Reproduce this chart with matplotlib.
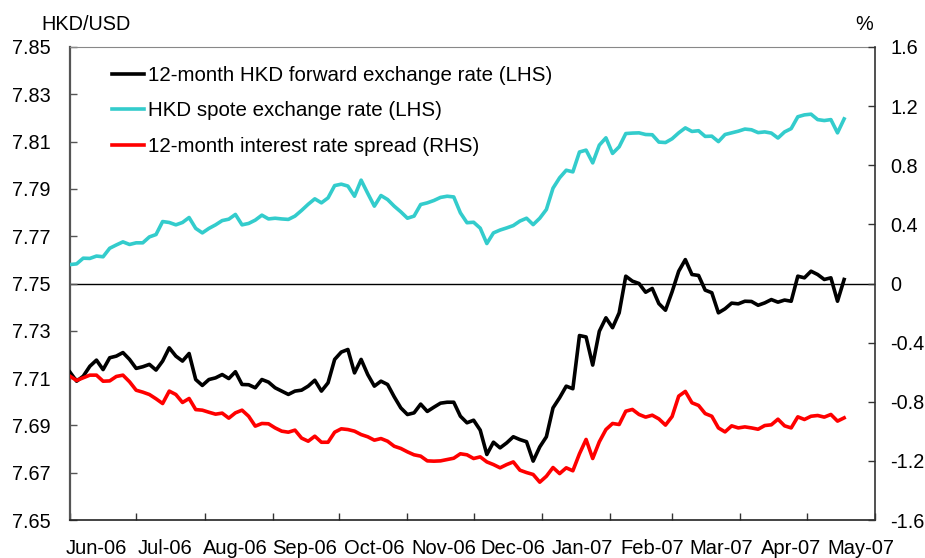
import matplotlib
matplotlib.use('Agg')
import matplotlib.pyplot as plt
import pandas as pd

plt.rcParams['font.family'] = ['Liberation Sans', 'DejaVu Sans']

months = ["Jun-06", "Jul-06", "Aug-06", "Sep-06", "Oct-06", "Nov-06",
          "Dec-06", "Jan-07", "Feb-07", "Mar-07", "Apr-07", "May-07"]

# HKD spot exchange rate (LHS), sampled every 3 days from 1 Jun 2006
spot = [7.7580, 7.7583, 7.7607, 7.7606, 7.7616, 7.7613, 7.7649, 7.7663, 7.7676, 7.7665,
        7.7672, 7.7672, 7.7697, 7.7707, 7.7762, 7.7758, 7.7748, 7.7758, 7.7779, 7.7733,
        7.7714, 7.7733, 7.7748, 7.7766, 7.7772, 7.7792, 7.7748, 7.7754, 7.7768, 7.7789,
        7.7773,
        7.7776, 7.7773, 7.7771, 7.7785, 7.7809, 7.7835, 7.7858, 7.7841, 7.7862, 7.7914,
        7.7920, 7.7912, 7.7869, 7.7937, 7.7881, 7.7827, 7.7872, 7.7855, 7.7827, 7.7803,
        7.7776, 7.7785, 7.7834, 7.7841, 7.7851, 7.7864, 7.7869, 7.7866, 7.7799, 7.7757,
        7.7759, 7.7734, 7.7669, 7.7714, 7.7726, 7.7735, 7.7745, 7.7764, 7.7776, 7.7749,
        7.7776, 7.7813, 7.7903, 7.7947, 7.7979, 7.7972, 7.8056, 7.8064, 7.8010, 7.8085,
        7.8116, 7.8050, 7.8078, 7.8134, 7.8136, 7.8137, 7.8130, 7.8129, 7.8098, 7.8096,
        7.8112,
        7.8137, 7.8158, 7.8143, 7.8146, 7.8122, 7.8123, 7.8100, 7.8130, 7.8137, 7.8144,
        7.8153, 7.8150, 7.8138, 7.8141, 7.8136, 7.8115, 7.8141, 7.8155, 7.8205, 7.8213,
        7.8216, 7.8193, 7.8189, 7.8193, 7.8137, 7.8196]

# 12-month HKD forward exchange rate (LHS)
fwd = [7.7125, 7.7087, 7.7108, 7.7150, 7.7176, 7.7136, 7.7186, 7.7193, 7.7208, 7.7179,
       7.7141, 7.7148, 7.7158, 7.7134, 7.7172, 7.7228, 7.7193, 7.7172, 7.7204, 7.7094,
       7.7069, 7.7094, 7.7101, 7.7115, 7.7098, 7.7127, 7.7073, 7.7072, 7.7059, 7.7094,
       7.7083,
       7.7059, 7.7045, 7.7031, 7.7045, 7.7049, 7.7066, 7.7091, 7.7045, 7.7080, 7.7179,
       7.7210, 7.7221, 7.7122, 7.7179, 7.7115, 7.7066, 7.7087, 7.7073, 7.7021, 7.6974,
       7.6946, 7.6953, 7.6990, 7.6959, 7.6977, 7.6994, 7.6998, 7.6998, 7.6939, 7.6911,
       7.6922, 7.6880, 7.6777, 7.6829, 7.6805, 7.6826, 7.6852, 7.6840, 7.6831, 7.6749,
       7.6809, 7.6852, 7.6974, 7.7017, 7.7066, 7.7055, 7.7280, 7.7274, 7.7155, 7.7298,
       7.7355, 7.7313, 7.7376, 7.7531, 7.7510, 7.7500, 7.7463, 7.7479, 7.7415, 7.7387,
       7.7465,
       7.7552, 7.7601, 7.7538, 7.7534, 7.7472, 7.7461, 7.7376, 7.7393, 7.7417, 7.7414,
       7.7425, 7.7424, 7.7408, 7.7418, 7.7432, 7.7421, 7.7430, 7.7425, 7.7531, 7.7524,
       7.7552, 7.7538, 7.7517, 7.7524, 7.7425, 7.7517]

# 12-month interest rate spread (RHS, %)
spread = [-0.627, -0.656, -0.638, -0.620, -0.620, -0.661, -0.659, -0.629, -0.620, -0.665,
          -0.722, -0.735, -0.751, -0.780, -0.812, -0.728, -0.751, -0.805, -0.778, -0.853,
          -0.857, -0.871, -0.884, -0.877, -0.911, -0.875, -0.857, -0.898, -0.965, -0.947,
          -0.949,
          -0.977, -0.999, -1.006, -0.992, -1.046, -1.067, -1.033, -1.074, -1.074, -1.006,
          -0.983, -0.988, -0.999, -1.022, -1.037, -1.060, -1.049, -1.067, -1.101, -1.116,
          -1.139, -1.159, -1.168, -1.200, -1.202, -1.200, -1.191, -1.182, -1.152, -1.159,
          -1.184, -1.173, -1.207, -1.225, -1.247, -1.225, -1.207, -1.263, -1.279, -1.292,
          -1.344, -1.304, -1.245, -1.286, -1.247, -1.267, -1.152, -1.055, -1.184, -1.071,
          -0.988, -0.947, -0.954, -0.864, -0.852, -0.886, -0.904, -0.891, -0.916, -0.958,
          -0.900,
          -0.762, -0.730, -0.807, -0.825, -0.880, -0.898, -0.977, -1.004, -0.963, -0.977,
          -0.970, -0.977, -0.986, -0.961, -0.956, -0.918, -0.963, -0.977, -0.902, -0.920,
          -0.898, -0.893, -0.904, -0.886, -0.931, -0.909]

dates = pd.date_range('2006-06-01', periods=len(spot), freq='3D')

FS = 14.3
MFS = 14.5
LFS = 14.8
LW = 2.6
fig = plt.figure(figsize=(9.25, 5.58), dpi=100)
ax = fig.add_axes([70 / 925, 38 / 558, 805 / 925, 473 / 558])
ax2 = ax.twinx()

ax.axhline(7.75, color='black', lw=1.0, zorder=1)
l1, = ax.plot(dates, fwd, color='black', lw=LW, solid_joinstyle='round', zorder=3)
l2, = ax.plot(dates, spot, color='#33CCCC', lw=LW, solid_joinstyle='round', zorder=3)
l3, = ax2.plot(dates, spread, color='#FF0000', lw=LW, solid_joinstyle='round', zorder=3)

ax.set_xlim(pd.Timestamp('2006-06-01'), pd.Timestamp('2007-06-01'))
ax.set_ylim(7.65, 7.85)
ax2.set_ylim(-1.6, 1.6)

lticks = [7.65, 7.67, 7.69, 7.71, 7.73, 7.75, 7.77, 7.79, 7.81, 7.83, 7.85]
ax.set_yticks(lticks)
ax.set_yticklabels([f"{t:.2f}" for t in lticks], fontsize=FS)
rticks = [-1.6, -1.2, -0.8, -0.4, 0, 0.4, 0.8, 1.2, 1.6]
ax2.set_yticks(rticks)
ax2.set_yticklabels(["0" if t == 0 else f"{t:.1f}" for t in rticks], fontsize=FS)

ax.set_xticks(pd.date_range('2006-06-01', '2007-06-01', freq='MS'))
ax.tick_params(axis='x', direction='in', length=5, width=1, labelbottom=False, color='#333333')
ax.tick_params(axis='y', direction='in', length=5, width=1, pad=14, color='#555555')
ax2.tick_params(axis='y', direction='in', length=5, width=1, pad=11, color='#333333')

for i, m in enumerate(months):
    ax.text((26 + 69.5 * i) / 805, -28 / 473, m, transform=ax.transAxes,
            ha='center', va='center', fontsize=MFS)

ax.spines['right'].set_visible(False)
ax.spines['left'].set_color('#555555')
ax.spines['left'].set_linewidth(1.6)
ax.spines['top'].set_color('#888888')
ax.spines['top'].set_linewidth(0.8)
ax.spines['bottom'].set_color('#222222')
ax.spines['bottom'].set_linewidth(1.2)
for s in ['left', 'top', 'bottom']:
    ax2.spines[s].set_visible(False)
ax2.spines['right'].set_color('#333333')
ax2.spines['right'].set_linewidth(1.2)

ax2.legend([l1, l2, l3],
           ["12-month HKD forward exchange rate (LHS)",
            "HKD spote exchange rate (LHS)",
            "12-month interest rate spread (RHS)"],
           loc='upper left', bbox_to_anchor=(41.7 / 805, 0.960), frameon=False,
           fontsize=LFS, handlelength=1.55, handletextpad=0.2, labelspacing=0.8,
           borderaxespad=0, borderpad=0)

fig.text(85.7 / 925, 1 - 25 / 558, "HKD/USD", ha='center', va='center', fontsize=FS)
fig.text(864 / 925, 1 - 24 / 558, "%", ha='center', va='center', fontsize=FS)

fig.savefig('out.png', dpi=100)
